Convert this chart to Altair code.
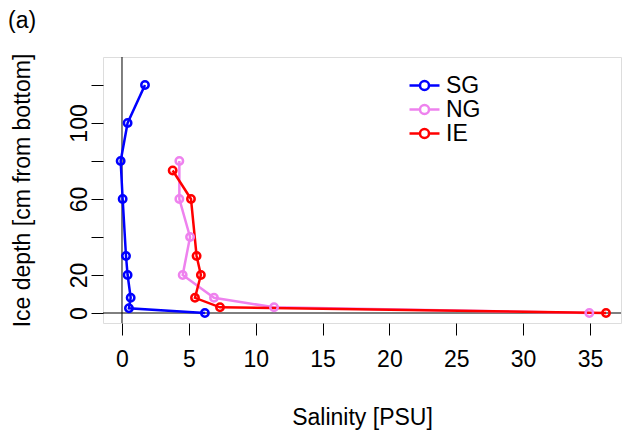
import altair as alt
import pandas as pd

sg_sal = [1.72, 0.42, -0.1, 0.05, 0.3, 0.42, 0.65, 0.52, 6.2]
sg_depth = [120, 100, 80, 60, 30, 20, 8, 2.5, 0]
ng_sal = [4.29, 4.29, 5.09, 4.54, 6.88, 11.37, 34.95]
ng_depth = [80, 60, 40, 20, 8, 3, 0]
ie_sal = [3.79, 5.16, 5.58, 5.9, 5.46, 7.33, 36.2]
ie_depth = [75, 60, 30, 20, 8, 3, 0]

sites = ["SG", "NG", "IE"]
colors = ["#0000FF", "#EE82EE", "#FF0000"]

x_ticks = [0, 5, 10, 15, 20, 25, 30, 35]
y_ticks = [0, 20, 40, 60, 80, 100, 120]
y_labels = [0, 20, 60, 100]

rows = []
for site, sal, dep in [("SG", sg_sal, sg_depth), ("NG", ng_sal, ng_depth), ("IE", ie_sal, ie_depth)]:
    for i, (s, d) in enumerate(zip(sal, dep)):
        rows.append({"site": site, "sal": s, "depth": d, "idx": i})
df = pd.DataFrame(rows)

FONT = "Liberation Sans"
FS = 23

xscale = alt.Scale(domain=[-1.42, 37.32], nice=False, zero=False)
yscale = alt.Scale(domain=[-5.26, 134.7], nice=False, zero=False)

# symbol scaled by r = sqrt(size)/2 = 7.5 -> line half-length 15px, circle radius 4.5px
legend_path = "M-2,0H-0.6A0.6,0.6 0 1,1 0.6,0A0.6,0.6 0 1,1 -0.6,0M0.6,0H2"

color = alt.Color(
    "site:N",
    scale=alt.Scale(domain=sites, range=colors),
    legend=alt.Legend(
        title=None,
        orient="none",
        legendX=310,
        legendY=17,
        symbolType=legend_path,
        symbolSize=225,
        symbolStrokeWidth=2.5,
        symbolFillColor="transparent",
        labelFontSize=FS,
        labelFont=FONT,
        labelColor="black",
        labelOffset=10,
        rowPadding=-4,
    ),
)

base = alt.Chart(df)

label_expr = "indexof([" + ",".join(str(v) for v in y_labels) + "], datum.value) >= 0 ? datum.label : ''"

lines = base.mark_line(strokeWidth=2.5).encode(
    x=alt.X(
        "sal:Q",
        scale=xscale,
        title="Salinity [PSU]",
        axis=alt.Axis(
            values=x_ticks,
            domain=False,
            grid=False,
            tickSize=12,
            tickColor="black",
            labelFontSize=FS,
            labelFont=FONT,
            labelColor="black",
            labelPadding=13,
            titleFontSize=FS,
            titleFont=FONT,
            titleFontWeight="normal",
            titleColor="black",
            titlePadding=35,
        ),
    ),
    y=alt.Y(
        "depth:Q",
        scale=yscale,
        title="Ice depth [cm from bottom]",
        axis=alt.Axis(
            values=y_ticks,
            labelExpr=label_expr,
            domain=False,
            grid=False,
            tickSize=12,
            tickColor="black",
            labelFontSize=FS,
            labelFont=FONT,
            labelColor="black",
            labelAngle=270,
            labelAlign="center",
            labelBaseline="bottom",
            labelPadding=0,
            titleFontSize=FS,
            titleFont=FONT,
            titleFontWeight="normal",
            titleColor="black",
            titlePadding=34,
        ),
    ),
    color=color,
    order="idx:Q",
    detail="site:N",
)

points = base.mark_point(filled=False, size=55, strokeWidth=2.5, opacity=1).encode(
    x="sal:Q",
    y="depth:Q",
    color=alt.Color("site:N", scale=alt.Scale(domain=sites, range=colors), legend=None),
)

vrule = alt.Chart(pd.DataFrame({"v": [0]})).mark_rule(color="black", strokeWidth=1).encode(x="v:Q")
hrule = alt.Chart(pd.DataFrame({"h": [0]})).mark_rule(color="black", strokeWidth=1).encode(y="h:Q")

panel_label = alt.Chart(pd.DataFrame({"t": ["(a)"]})).mark_text(
    align="left", baseline="middle", fontSize=FS, font=FONT, color="black"
).encode(text="t:N", x=alt.value(-95), y=alt.value(-36))

chart = alt.layer(vrule, hrule, lines, points, panel_label).properties(
    width=518,
    height=266,
    autosize=alt.AutoSizeParams(type="none"),
    padding={"left": 95, "top": 49, "right": 3, "bottom": 108},
).configure_view(stroke="black", strokeWidth=1.2).configure(background="white")

chart.save("out.html", embed_options={"renderer": "svg", "actions": False})
